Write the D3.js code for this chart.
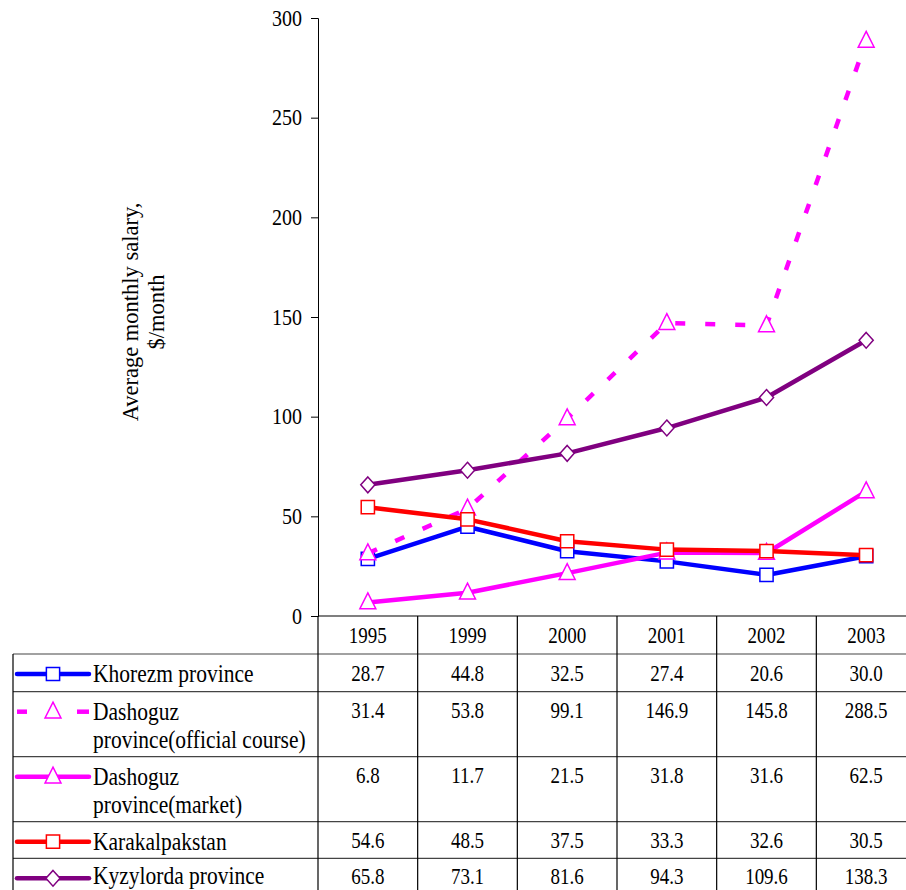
<!DOCTYPE html>
<html>
<head>
<meta charset="utf-8">
<script src="https://cdn.jsdelivr.net/npm/d3@7"></script>
<style>
  body { margin: 0; background: #fff; }
</style>
</head>
<body>
<div id="chart"></div>
<script>
const years = ["1995", "1999", "2000", "2001", "2002", "2003"];
const seriesNames = [
    ["Khorezm province"],
    ["Dashoguz", "province(official course)"],
    ["Dashoguz", "province(market)"],
    ["Karakalpakstan"],
    ["Kyzylorda province"]
];
const khorezm = [28.7, 44.8, 32.5, 27.4, 20.6, 30.0];
const dashoguzOfficial = [31.4, 53.8, 99.1, 146.9, 145.8, 288.5];
const dashoguzMarket = [6.8, 11.7, 21.5, 31.8, 31.6, 62.5];
const karakalpakstan = [54.6, 48.5, 37.5, 33.3, 32.6, 30.5];
const kyzylorda = [65.8, 73.1, 81.6, 94.3, 109.6, 138.3];
const yTicks = [0, 50, 100, 150, 200, 250, 300];
const yLabel = ["Average monthly salary,", "$/month"];

const series = [
    { name: seriesNames[0], values: khorezm, color: "#0000ff", marker: "square", dash: null },
    { name: seriesNames[1], values: dashoguzOfficial, color: "#ff00ff", marker: "triangle", dash: "10,20" },
    { name: seriesNames[2], values: dashoguzMarket, color: "#ff00ff", marker: "triangle", dash: null },
    { name: seriesNames[3], values: karakalpakstan, color: "#ff0000", marker: "square", dash: null },
    { name: seriesNames[4], values: kyzylorda, color: "#800080", marker: "diamond", dash: null }
];

const width = 906, height = 890;
const plotLeft = 318, plotRight = 916, plotTop = 18, plotBottom = 616;
const tableLeft = 13;
const rowHeights = [38, 37.7, 65, 65, 36.6, 38]; // header row + series rows
const serif = "Liberation Serif";
const stretch = 1.2; // glyphs in the original look taller than wide

const svg = d3.select("#chart").append("svg")
    .attr("width", width)
    .attr("height", height)
    .attr("font-family", serif);

const x = d3.scaleBand().domain(years).range([plotLeft, plotRight]);
const y = d3.scaleLinear().domain([0, 300]).range([plotBottom, plotTop]);
const cx = yr => x(yr) + x.bandwidth() / 2;

// text helper: stretched vertically around its anchor
function label(g, tx, ty, size, anchor) {
    return g.append("text")
        .attr("transform", `translate(${tx},${ty}) scale(1,${stretch})`)
        .attr("font-family", serif)
        .attr("font-size", size)
        .attr("text-anchor", anchor || "start")
        .attr("fill", "#000");
}

// y axis
const yAxis = d3.axisLeft(y).tickValues(yTicks).tickSize(7).tickFormat(d3.format("d"));
const yg = svg.append("g")
    .attr("transform", `translate(${plotLeft},0)`)
    .call(yAxis)
    .call(g => g.selectAll("line, path").attr("stroke", "#000"));
yg.selectAll(".tick text").remove();
yg.selectAll(".tick").each(function (d) {
    label(d3.select(this), -16, 7, 20, "end").text(d);
});

// y label
svg.append("text")
    .attr("transform", "translate(137.5,312) rotate(-90)")
    .attr("text-anchor", "middle")
    .attr("font-family", serif)
    .attr("font-size", 22.5)
    .selectAll("tspan")
    .data(yLabel)
    .join("tspan")
    .attr("x", 0)
    .attr("dy", (d, i) => i === 0 ? 0 : 26)
    .text(d => d);

// table grid
const rowTops = [];
let acc = plotBottom;
rowHeights.forEach(h => { rowTops.push(acc); acc += h; });
const tableBottom = acc;
const grid = svg.append("g").attr("stroke", "#000").attr("stroke-width", 1.2);

grid.append("line").attr("x1", plotLeft).attr("x2", plotRight).attr("y1", plotBottom).attr("y2", plotBottom);
rowTops.slice(1).forEach(t => {
    grid.append("line").attr("x1", tableLeft).attr("x2", plotRight).attr("y1", t).attr("y2", t).attr("stroke", "#444");
});
grid.append("line").attr("x1", tableLeft).attr("x2", tableLeft).attr("y1", rowTops[1]).attr("y2", tableBottom);
years.forEach(yr => {
    grid.append("line").attr("x1", x(yr)).attr("x2", x(yr)).attr("y1", plotBottom).attr("y2", tableBottom);
});
grid.append("line").attr("x1", plotRight).attr("x2", plotRight).attr("y1", plotBottom).attr("y2", tableBottom);

// header years
const header = svg.append("g");
years.forEach(yr => label(header, cx(yr), rowTops[0] + 26.7, 19, "middle").text(yr));

// markers
function markerPath(type) {
    if (type === "square") return d3.symbol(d3.symbolSquare, 175)();
    if (type === "triangle") return d3.symbol(d3.symbolTriangle, 110)();
    return d3.symbol(d3.symbolSquare, 100)();
}
function drawMarker(g, s, mx, my) {
    let t = `translate(${mx},${my})`;
    if (s.marker === "triangle") t = `translate(${mx},${my + 1}) scale(1,1.15)`;
    if (s.marker === "diamond") t = `translate(${mx},${my}) scale(1,1.12) rotate(45)`;
    g.append("path")
        .attr("d", markerPath(s.marker))
        .attr("transform", t)
        .attr("fill", "#fff")
        .attr("stroke", s.color)
        .attr("stroke-width", 1.5)
        .attr("vector-effect", "non-scaling-stroke");
}

// lines
const line = d3.line()
    .x((d, i) => cx(years[i]))
    .y(d => y(d));

series.forEach(s => {
    const g = svg.append("g");
    g.append("path")
        .datum(s.values)
        .attr("d", line)
        .attr("fill", "none")
        .attr("stroke", s.color)
        .attr("stroke-width", 4.5)
        .attr("stroke-linejoin", "round")
        .attr("stroke-dasharray", s.dash);
    s.values.forEach((v, i) => drawMarker(g, s, cx(years[i]), y(v)));
});

// table rows
series.forEach((s, k) => {
    const top = rowTops[k + 1];
    const ky = top + 20;
    const base = Math.min(top + 28.3, height - 6.5); // last row is cut by the frame
    const g = svg.append("g");
    if (s.dash) {
        g.append("line").attr("x1", 17).attr("x2", 27).attr("y1", ky).attr("y2", ky)
            .attr("stroke", s.color).attr("stroke-width", 4.5);
        g.append("line").attr("x1", 77).attr("x2", 89).attr("y1", ky).attr("y2", ky)
            .attr("stroke", s.color).attr("stroke-width", 4.5);
    } else {
        g.append("line").attr("x1", 17).attr("x2", 89).attr("y1", ky).attr("y2", ky)
            .attr("stroke", s.color).attr("stroke-width", 4.5).attr("stroke-linecap", "round");
    }
    drawMarker(g, s, 53, ky);
    label(g, 93, base, 21.5)
        .selectAll("tspan")
        .data(s.name)
        .join("tspan")
        .attr("x", 0)
        .attr("dy", (d, i) => i === 0 ? 0 : 28.3 / stretch)
        .text(d => d);
    s.values.forEach((v, i) => {
        label(g, cx(years[i]), Math.min(top + 26.7, height - 6.5), 19, "middle").text(v.toFixed(1));
    });
});
</script>
</body>
</html>
